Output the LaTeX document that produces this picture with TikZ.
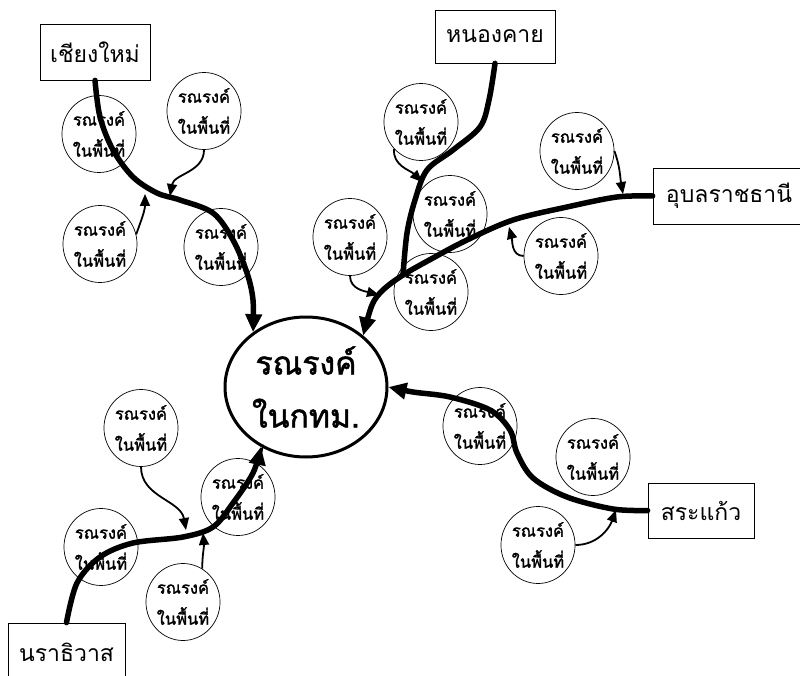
\documentclass[tikz,border=0pt]{standalone}
\usepackage{fontspec}
\usetikzlibrary{shapes.geometric,arrows.meta}
\newfontfamily\thaifont[Script=Thai]{Loma}
\newfontfamily\thaibold[Script=Thai,FakeBold=1.6]{Loma}
\newcommand{\boxfnt}{\thaifont\fontsize{23}{27}\selectfont}
\newcommand{\bubfnt}{\thaibold\fontsize{16.5}{31}\selectfont}
\newcommand{\hubfnt}{\thaibold\fontsize{32}{53}\selectfont}
\tikzset{
  place/.style={draw, line width=0.8pt, rectangle, inner sep=0pt, font=\boxfnt},
  bubble/.style={draw, ellipse, line width=0.7pt, minimum width=72pt, minimum height=77pt, inner sep=0pt, align=center, font=\bubfnt},
  hub/.style={draw, ellipse, line width=3pt, minimum width=162pt, minimum height=140pt, inner sep=0pt, align=center, font=\hubfnt},
  mainlink/.style={line width=5.5pt, line cap=round, -{Triangle[length=18pt,width=16pt]}},
  trunk/.style={line width=5.5pt, line cap=round},
  feeder/.style={line width=1.8pt, -{Triangle[length=12pt,width=10pt]}},
}
\begin{document}
\begin{tikzpicture}[x=1pt,y=-1pt]
\useasboundingbox (0,0) rectangle (800,676);
\fill[white] (0,0) rectangle (800,676);
% region boxes
\node[place, minimum width=110pt, minimum height=56pt] (cm) at (95,52) {เชียงใหม่};
\node[place, minimum width=120pt, minimum height=53pt] (nk) at (495,36.5) {หนองคาย};
\node[place, minimum width=152pt, minimum height=56pt] (ub) at (729,196) {อุบลราชธานี};
\node[place, minimum width=106pt, minimum height=55pt] (sk) at (701,510.5) {สระแก้ว};
\node[place, minimum width=117pt, minimum height=58pt] (nw) at (66.5,652) {นราธิวาส};
% hub
\node[hub] (hub) at (306,387) {รณรงค์\\ในกทม.};
% bubbles
\foreach \n/\x/\y in {c1/99/134, c2/204/111, c3/100/244, c4/221/247,
  n1/421/122, n2/450/214, n3/350/237, n4/431/292, n5/577/151, n6/561/256,
  s1/480/426, s2/593/457, s3/538/545,
  w1/141/428, w2/101/547, w3/238/497, w4/183/602}
  \node[bubble] (\n) at (\x,\y) {รณรงค์\\ในพื้นที่};
% junction coordinates
\coordinate (ubj) at (403,275);
\coordinate (cmA) at (170,196);
\coordinate (cmB) at (145,194);
\coordinate (nkA) at (422,182);
\coordinate (nkB) at (379,295);
\coordinate (ubA) at (623,194);
\coordinate (ubB) at (509,227);
\coordinate (skA) at (616,510);
\coordinate (nwA) at (186,530);
\coordinate (nwB) at (203,533);
% main links
\draw[mainlink] plot[smooth, tension=0.55] coordinates {(cm.south) (100,117) (113,150) (133,177) (157,193) (180,200) (213,213) (233,240) (247,273) (253,300) (hub.134)};
\draw[trunk] plot[smooth, tension=0.55] coordinates {(nk.south) (489,100) (480,127) (453,150) (427,170) (415,200) (407,233) (ubj)};
\draw[mainlink] plot[smooth, tension=0.55] coordinates {(ub.west) (617,197) (567,207) (513,220) (467,240) (433,258) (ubj) (383,290) (372,305) (hub.42)};
\draw[mainlink] plot[smooth, tension=0.55] coordinates {(sk.west) (613,509) (567,497) (533,478) (517,453) (510,430) (490,410) (450,397) (413,392) (hub.0)};
\draw[mainlink] plot[smooth, tension=0.55] coordinates {(nw.north) (77,583) (100,557) (133,543) (183,537) (213,527) (233,503) (253,473) (hub.233)};
% feeders
\draw[feeder] (c2.south) to[out=-90,in=80] (cmA);
\draw[feeder] (c3.15) to[out=70,in=-90] (cmB);
\draw[feeder] (n1.225) to[out=-95,in=135] (nkA);
\draw[feeder] (n3.south) to[out=-90,in=165] (nkB);
\draw[feeder] (n5.east) to[out=-70,in=100] (ubA);
\draw[feeder] (n6.west) to[out=180,in=-75] (ubB);
\draw[feeder] (s3.east) to[out=0,in=-110] (skA);
\draw[feeder] (w1.south) to[out=-90,in=100] (nwA);
\draw[feeder] (w4.60) to[out=90,in=-85] (nwB);
\end{tikzpicture}
\end{document}
